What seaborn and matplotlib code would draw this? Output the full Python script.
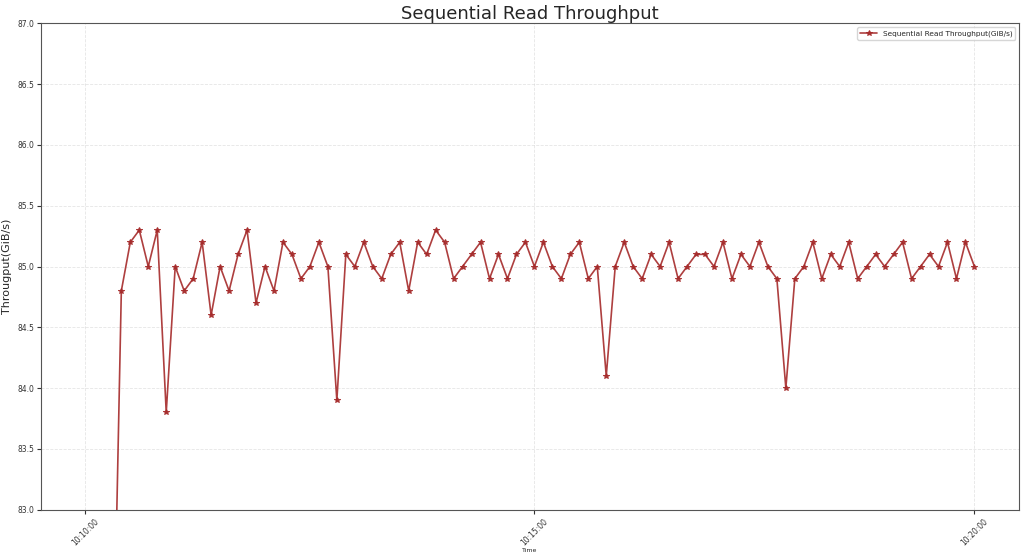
import matplotlib
matplotlib.use("Agg")
import matplotlib.pyplot as plt
import seaborn as sns
import pandas as pd
import numpy as np

# Throughput samples (GiB/s), one per sample point; first few ramp up below the visible range
throughput = [
    78.0, 79.5, 80.5, 81.2,
    84.8, 85.2, 85.3, 85.0, 85.3, 83.8, 85.0, 84.8, 84.9, 85.2,
    84.6, 85.0, 84.8, 85.1, 85.3, 84.7, 85.0, 84.8, 85.2, 85.1,
    84.9, 85.0, 85.2,
    85.0, 83.9, 85.1, 85.0, 85.2, 85.0, 84.9, 85.1, 85.2, 84.8,
    85.2, 85.1, 85.3, 85.2, 84.9, 85.0, 85.1, 85.2, 84.9, 85.1,
    84.9, 85.1, 85.2, 85.0,
    85.2, 85.0, 84.9, 85.1, 85.2, 84.9, 85.0, 84.1, 85.0, 85.2,
    85.0, 84.9, 85.1, 85.0, 85.2, 84.9, 85.0, 85.1, 85.1, 85.0,
    85.2, 84.9, 85.1, 85.0, 85.2,
    85.0, 84.9, 84.0, 84.9, 85.0, 85.2, 84.9, 85.1, 85.0, 85.2,
    84.9, 85.0, 85.1, 85.0, 85.1, 85.2, 84.9, 85.0, 85.1, 85.0,
    85.2, 84.9, 85.2, 85.0,
]

# Timestamp labels and the sample index where each one falls
tick_labels = ["10:10:00", "10:15:00", "10:20:00"]
tick_samples = [0, 50, 99]

df = pd.DataFrame({"sample": np.arange(len(throughput)), "throughput": throughput})

sns.set_style("ticks")
plt.rcParams["font.family"] = ["DejaVu Sans"]

fig, ax = plt.subplots(figsize=(10.24, 5.57), dpi=100)
sns.lineplot(data=df, x="sample", y="throughput", ax=ax, color="#a52a2a", alpha=0.9,
             marker="*", markersize=4, markeredgecolor="#a52a2a", linewidth=1.2,
             label="Sequential Read Throughput(GiB/s)")

ax.set_ylim(83.0, 87.0)
ax.set_yticks(np.arange(83.0, 87.01, 0.5))
ax.set_xticks(tick_samples)
ax.set_xticklabels(tick_labels, rotation=45, fontsize=5.5)
ax.tick_params(axis="y", labelsize=5.5, length=3, pad=2, colors="#333333")
ax.tick_params(axis="x", length=3, pad=2, colors="#333333")
ax.grid(True, linestyle="--", alpha=0.5, linewidth=0.6)

ax.set_title("Sequential Read Throughput", fontsize=13, pad=3)
ax.set_xlabel("Time", fontsize=4.5, labelpad=1)
ax.set_ylabel("Througput(GiB/s)", fontsize=8, labelpad=4)
for s in ax.spines.values():
    s.set_color("#555555")

ax.legend(loc="upper right", fontsize=5.3, frameon=True, handlelength=2.2)

plt.subplots_adjust(left=0.04, right=0.995, top=0.958, bottom=0.085)
plt.savefig("out.png", dpi=100)
plt.close()
